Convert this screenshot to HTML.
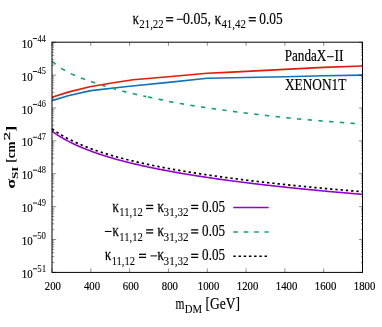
<!DOCTYPE html>
<html><head><meta charset="utf-8"><style>
html,body{margin:0;padding:0;background:#fff;}
svg{display:block;will-change:transform}
text{font-family:"Liberation Serif",serif;fill:#000;stroke:#000;stroke-width:0.18px}
</style></head><body>
<svg width="382" height="327" viewBox="0 0 382 327">
<rect width="382" height="327" fill="#fff"/>
<path d="M52.00,97.30 L68.11,92.10 L89.84,86.70 L110.22,83.30 L133.12,79.70 L168.44,76.80 L207.25,73.30 L231.70,72.10 L246.06,71.40 L284.88,69.40 L323.69,67.40 L362.50,66.00" stroke="#e41a0c" stroke-width="1.65" fill="none" stroke-linejoin="round"/>
<path d="M52.00,100.60 L68.11,95.80 L90.81,90.60 L129.62,86.20 L168.44,82.40 L207.25,78.20 L246.06,77.50 L284.88,76.70 L323.69,75.70 L362.50,75.10" stroke="#1272b8" stroke-width="1.65" fill="none" stroke-linejoin="round"/>
<path d="M52.00,61.40 L52.97,62.19 L53.94,62.96 L54.91,63.72 L55.65,64.28 M61.05,68.16 L61.70,68.57 L62.67,69.16 L63.64,69.73 L64.61,70.30 L64.98,70.50 M70.72,73.62 L71.41,73.94 L72.38,74.38 L73.35,74.81 L74.32,75.23 L74.83,75.45 M80.81,77.90 L81.11,78.01 L82.08,78.38 L83.05,78.74 L84.02,79.10 L84.99,79.45 L85.01,79.46 M91.08,81.56 L91.78,81.81 L92.75,82.15 L93.72,82.48 L94.69,82.81 L95.30,83.02 M101.40,85.00 L101.49,85.03 L102.46,85.33 L103.43,85.64 L104.40,85.94 L105.37,86.24 L105.65,86.33 M111.79,88.14 L112.16,88.25 L113.13,88.53 L114.10,88.80 L115.07,89.07 L116.04,89.34 L116.06,89.34 M122.24,90.99 L122.83,91.15 L123.80,91.40 L124.77,91.64 L125.74,91.89 L126.53,92.09 M132.73,93.59 L133.51,93.78 L134.48,94.00 L135.45,94.23 L136.42,94.45 L137.05,94.60 M143.27,95.98 L144.18,96.17 L145.15,96.38 L146.12,96.59 L146.30,96.62 M148.00,96.98 L148.06,96.99 L149.03,97.19 L150.00,97.39 L150.97,97.59 L151.94,97.79 L152.33,97.86 M158.57,99.12 L158.73,99.16 L159.70,99.39 L160.68,99.62 L161.65,99.85 L162.62,100.08 L162.88,100.14 M169.10,101.55 L169.41,101.61 L170.38,101.79 L171.35,101.96 L172.32,102.14 L173.29,102.31 L173.44,102.34 M179.70,103.44 L180.08,103.50 L181.05,103.67 L182.02,103.83 L182.99,104.00 L183.96,104.16 L184.06,104.17 M190.32,105.21 L190.75,105.28 L191.72,105.43 L192.70,105.59 L193.67,105.74 L194.64,105.90 L194.68,105.90 M200.96,106.88 L201.43,106.95 L202.40,107.10 L203.37,107.24 L204.34,107.39 L205.31,107.54 L205.32,107.54 M211.60,108.46 L212.10,108.53 L213.07,108.67 L214.04,108.81 L215.01,108.95 L215.97,109.09 M222.25,109.96 L222.78,110.04 L223.75,110.17 L224.72,110.30 L225.69,110.43 L226.62,110.56 M232.91,111.40 L233.45,111.47 L234.42,111.59 L235.39,111.72 L236.36,111.84 L237.28,111.96 M243.57,112.76 L244.12,112.83 L245.09,112.95 L246.06,113.07 L247.03,113.19 L247.95,113.30 M254.24,114.07 L254.80,114.13 L255.77,114.25 L256.74,114.37 L257.71,114.48 L258.62,114.59 M264.91,115.32 L265.47,115.39 L266.44,115.50 L267.41,115.61 L268.38,115.72 L269.29,115.82 M275.59,116.53 L276.14,116.59 L277.11,116.70 L278.08,116.81 L279.05,116.92 L279.97,117.02 M286.27,117.70 L286.82,117.76 L287.79,117.86 L288.76,117.96 L289.73,118.07 L290.65,118.17 M296.96,118.82 L297.49,118.88 L298.46,118.96 L299.43,119.05 L300.40,119.13 L301.34,119.22 M307.65,119.76 L308.16,119.81 L309.13,119.89 L310.10,119.97 L311.07,120.05 L312.04,120.14 M318.35,120.66 L318.84,120.70 L319.81,120.78 L320.78,120.86 L321.75,120.94 L322.72,121.02 L322.74,121.02 M329.06,121.53 L329.51,121.56 L330.48,121.64 L331.45,121.72 L332.42,121.79 L333.39,121.87 L333.44,121.87 M339.76,122.36 L340.18,122.39 L341.15,122.47 L342.12,122.54 L343.09,122.61 L344.06,122.69 L344.15,122.69 M350.47,123.17 L350.86,123.20 L351.83,123.28 L352.80,123.36 L353.77,123.44 L354.74,123.52 L354.85,123.53" stroke="#0fa374" stroke-width="1.6" fill="none"/>
<path d="M52.00,131.20 L52.97,131.91 L53.94,132.60 L54.91,133.27 L55.88,133.93 L56.85,134.58 L57.82,135.21 L58.79,135.83 L59.76,136.43 L60.73,137.02 L61.70,137.60 L62.67,138.17 L63.64,138.73 L64.61,139.27 L65.58,139.81 L66.55,140.34 L67.53,140.85 L68.50,141.36 L69.47,141.86 L70.44,142.35 L71.41,142.83 L72.38,143.31 L73.35,143.78 L74.32,144.23 L75.29,144.69 L76.26,145.13 L77.23,145.57 L78.20,146.00 L79.17,146.43 L80.14,146.85 L81.11,147.26 L82.08,147.67 L83.05,148.07 L84.02,148.46 L84.99,148.85 L85.96,149.24 L86.93,149.62 L87.90,150.00 L88.87,150.37 L89.84,150.73 L90.81,151.09 L91.78,151.45 L92.75,151.80 L93.72,152.15 L94.69,152.49 L95.66,152.83 L96.63,153.17 L97.60,153.50 L98.57,153.83 L99.55,154.15 L100.52,154.48 L101.49,154.79 L102.46,155.11 L103.43,155.42 L104.40,155.72 L105.37,156.03 L106.34,156.33 L107.31,156.63 L108.28,156.92 L109.25,157.21 L110.22,157.50 L111.19,157.79 L112.16,158.07 L113.13,158.35 L114.10,158.63 L115.07,158.90 L116.04,159.18 L117.01,159.45 L117.98,159.71 L118.95,159.98 L119.92,160.24 L120.89,160.50 L121.86,160.76 L122.83,161.01 L123.80,161.27 L124.77,161.52 L125.74,161.77 L126.71,162.01 L127.68,162.26 L128.65,162.50 L129.62,162.74 L130.60,162.98 L131.57,163.22 L132.54,163.45 L133.51,163.68 L134.48,163.91 L135.45,164.14 L136.42,164.37 L137.39,164.59 L138.36,164.82 L139.33,165.04 L140.30,165.26 L141.27,165.48 L142.24,165.70 L143.21,165.91 L144.18,166.13 L145.15,166.34 L146.12,166.55 L147.09,166.76 L148.06,166.96 L149.03,167.17 L150.00,167.38 L150.97,167.58 L151.94,167.78 L152.91,167.98 L153.88,168.18 L154.85,168.38 L155.82,168.57 L156.79,168.77 L157.76,168.96 L158.73,169.15 L159.70,169.35 L160.68,169.54 L161.65,169.72 L162.62,169.91 L163.59,170.10 L164.56,170.28 L165.53,170.47 L166.50,170.65 L167.47,170.83 L168.44,171.01 L169.41,171.19 L170.38,171.37 L171.35,171.55 L172.32,171.72 L173.29,171.90 L174.26,172.07 L175.23,172.24 L176.20,172.41 L177.17,172.59 L178.14,172.75 L179.11,172.92 L180.08,173.09 L181.05,173.26 L182.02,173.42 L182.99,173.59 L183.96,173.75 L184.93,173.92 L185.90,174.08 L186.87,174.24 L187.84,174.40 L188.81,174.56 L189.78,174.72 L190.75,174.88 L191.72,175.03 L192.70,175.19 L193.67,175.34 L194.64,175.50 L195.61,175.65 L196.58,175.80 L197.55,175.96 L198.52,176.11 L199.49,176.26 L200.46,176.41 L201.43,176.56 L202.40,176.70 L203.37,176.85 L204.34,177.00 L205.31,177.14 L206.28,177.29 L207.25,177.43 L208.22,177.58 L209.19,177.72 L210.16,177.86 L211.13,178.00 L212.10,178.14 L213.07,178.28 L214.04,178.42 L215.01,178.56 L215.98,178.70 L216.95,178.84 L217.92,178.97 L218.89,179.11 L219.86,179.25 L220.83,179.38 L221.80,179.51 L222.78,179.65 L223.75,179.78 L224.72,179.91 L225.69,180.05 L226.66,180.18 L227.63,180.31 L228.60,180.44 L229.57,180.57 L230.54,180.70 L231.51,180.82 L232.48,180.95 L233.45,181.08 L234.42,181.21 L235.39,181.33 L236.36,181.46 L237.33,181.58 L238.30,181.71 L239.27,181.83 L240.24,181.95 L241.21,182.08 L242.18,182.20 L243.15,182.32 L244.12,182.44 L245.09,182.56 L246.06,182.68 L247.03,182.80 L248.00,182.92 L248.97,183.04 L249.94,183.16 L250.91,183.28 L251.88,183.39 L252.85,183.51 L253.83,183.63 L254.80,183.74 L255.77,183.86 L256.74,183.97 L257.71,184.09 L258.68,184.20 L259.65,184.32 L260.62,184.43 L261.59,184.54 L262.56,184.66 L263.53,184.77 L264.50,184.88 L265.47,184.99 L266.44,185.10 L267.41,185.21 L268.38,185.32 L269.35,185.43 L270.32,185.54 L271.29,185.65 L272.26,185.76 L273.23,185.86 L274.20,185.97 L275.17,186.08 L276.14,186.18 L277.11,186.29 L278.08,186.40 L279.05,186.50 L280.02,186.61 L280.99,186.71 L281.96,186.82 L282.93,186.92 L283.90,187.02 L284.88,187.13 L285.85,187.23 L286.82,187.33 L287.79,187.43 L288.76,187.54 L289.73,187.64 L290.70,187.74 L291.67,187.84 L292.64,187.94 L293.61,188.04 L294.58,188.14 L295.55,188.24 L296.52,188.34 L297.49,188.44 L298.46,188.53 L299.43,188.63 L300.40,188.73 L301.37,188.83 L302.34,188.92 L303.31,189.02 L304.28,189.12 L305.25,189.21 L306.22,189.31 L307.19,189.40 L308.16,189.50 L309.13,189.59 L310.10,189.69 L311.07,189.78 L312.04,189.88 L313.01,189.97 L313.98,190.06 L314.95,190.16 L315.93,190.25 L316.90,190.34 L317.87,190.43 L318.84,190.52 L319.81,190.62 L320.78,190.71 L321.75,190.80 L322.72,190.89 L323.69,190.98 L324.66,191.07 L325.63,191.16 L326.60,191.25 L327.57,191.34 L328.54,191.43 L329.51,191.52 L330.48,191.60 L331.45,191.69 L332.42,191.78 L333.39,191.87 L334.36,191.95 L335.33,192.04 L336.30,192.13 L337.27,192.22 L338.24,192.30 L339.21,192.39 L340.18,192.47 L341.15,192.56 L342.12,192.64 L343.09,192.73 L344.06,192.81 L345.03,192.90 L346.00,192.98 L346.97,193.07 L347.95,193.15 L348.92,193.23 L349.89,193.32 L350.86,193.40 L351.83,193.48 L352.80,193.57 L353.77,193.65 L354.74,193.73 L355.71,193.81 L356.68,193.89 L357.65,193.98 L358.62,194.06 L359.59,194.14 L360.56,194.22 L361.53,194.30 L362.50,194.38" stroke="#9400d3" stroke-width="1.6" fill="none"/>
<path d="M52.00,128.75 L52.97,129.46 L53.94,130.15 L53.98,130.17 M56.53,131.91 L56.85,132.13 L57.82,132.76 L58.56,133.23 M61.18,134.83 L61.70,135.15 L62.67,135.71 L63.26,136.05 M65.92,137.54 L66.55,137.88 L67.53,138.39 L68.04,138.66 M70.74,140.04 L71.41,140.37 L72.38,140.85 L72.88,141.09 M75.62,142.38 L76.26,142.67 L77.23,143.10 L77.79,143.35 M80.56,144.56 L81.11,144.79 L82.08,145.20 L82.74,145.47 M85.53,146.60 L85.96,146.77 L86.93,147.15 L87.73,147.46 M90.54,148.52 L90.81,148.62 L91.78,148.97 L92.75,149.33 L92.76,149.33 M95.59,150.33 L95.66,150.36 L96.63,150.69 L97.60,151.02 L97.81,151.09 M100.65,152.04 L101.49,152.31 L102.46,152.62 L102.89,152.76 M105.74,153.66 L106.34,153.84 L107.31,154.14 L107.98,154.35 M110.84,155.20 L111.19,155.30 L112.16,155.58 L113.09,155.85 M115.96,156.66 L116.04,156.68 L117.01,156.95 L117.98,157.22 L118.22,157.29 M121.10,158.06 L121.86,158.26 L122.83,158.52 L123.36,158.65 M126.24,159.40 L126.71,159.51 L127.68,159.76 L128.51,159.96 M131.40,160.67 L131.57,160.71 L132.54,160.95 L133.51,161.18 L133.67,161.22 M136.57,161.90 L137.39,162.09 L138.36,162.31 L138.84,162.42 M141.74,163.08 L142.24,163.19 L143.21,163.40 L144.02,163.58 M146.92,164.21 L147.09,164.25 L148.06,164.45 L149.03,164.66 L149.20,164.69 M152.11,165.30 L152.91,165.47 L153.88,165.66 L154.39,165.77 M157.30,166.35 L157.76,166.44 L158.73,166.64 L159.59,166.80 M162.50,167.37 L162.62,167.39 L163.59,167.58 L164.56,167.76 L164.79,167.80 M167.71,168.35 L168.44,168.49 L169.41,168.66 L170.00,168.77 M172.91,169.30 L173.29,169.37 L174.26,169.54 L175.21,169.71 M178.13,170.22 L178.14,170.22 L179.11,170.39 L180.08,170.56 L180.42,170.62 M183.34,171.11 L183.96,171.22 L184.93,171.38 L185.64,171.50 M188.56,171.98 L188.81,172.02 L189.78,172.18 L190.75,172.34 L190.86,172.35 M193.78,172.82 L194.64,172.96 L195.61,173.11 L196.08,173.18 M199.00,173.64 L199.49,173.71 L200.46,173.86 L201.30,173.99 M204.23,174.43 L204.34,174.45 L205.31,174.59 L206.28,174.74 L206.53,174.78 M209.46,175.21 L210.16,175.31 L211.13,175.45 L211.76,175.54 M214.69,175.96 L215.01,176.01 L215.98,176.14 L216.95,176.28 L216.99,176.29 M219.92,176.70 L220.83,176.82 L221.80,176.95 L222.23,177.01 M225.16,177.41 L225.69,177.48 L226.66,177.61 L227.46,177.72 M230.39,178.11 L230.54,178.13 L231.51,178.26 L232.48,178.39 L232.70,178.41 M235.63,178.79 L236.36,178.89 L237.33,179.01 L237.94,179.09 M240.87,179.46 L241.21,179.50 L242.18,179.63 L243.15,179.75 L243.18,179.75 M246.11,180.11 L247.03,180.23 L248.00,180.35 L248.42,180.40 M251.35,180.75 L251.88,180.82 L252.85,180.93 L253.66,181.03 M256.60,181.38 L256.74,181.39 L257.71,181.51 L258.68,181.62 L258.90,181.65 M261.84,181.99 L262.56,182.07 L263.53,182.18 L264.15,182.25 M267.09,182.59 L267.41,182.62 L268.38,182.73 L269.35,182.84 L269.40,182.84 M272.33,183.17 L273.23,183.27 L274.20,183.38 L274.64,183.43 M277.58,183.75 L278.08,183.80 L279.05,183.91 L279.89,184.00 M282.83,184.31 L282.93,184.32 L283.90,184.42 L284.88,184.53 L285.14,184.55 M288.08,184.86 L288.76,184.93 L289.73,185.03 L290.39,185.10 M293.33,185.40 L293.61,185.43 L294.58,185.53 L295.55,185.63 L295.64,185.64 M298.58,185.94 L299.43,186.02 L300.40,186.12 L300.89,186.17 M303.83,186.46 L304.28,186.50 L305.25,186.60 L306.14,186.69 M309.08,186.97 L309.13,186.98 L310.10,187.07 L311.07,187.17 L311.39,187.20 M314.33,187.48 L314.95,187.54 L315.93,187.63 L316.65,187.70 M319.59,187.97 L319.81,187.99 L320.78,188.08 L321.75,188.17 L321.90,188.19 M324.84,188.46 L325.63,188.53 L326.60,188.62 L327.15,188.67 M330.09,188.94 L330.48,188.97 L331.45,189.06 L332.41,189.15 M335.35,189.41 L336.30,189.50 L337.27,189.58 L337.66,189.62 M340.60,189.87 L341.15,189.92 L342.12,190.01 L342.92,190.08 M345.86,190.33 L346.00,190.34 L346.97,190.43 L347.95,190.51 L348.17,190.53 M351.12,190.78 L351.83,190.84 L352.80,190.92 L353.43,190.98 M356.37,191.22 L356.68,191.25 L357.65,191.33 L358.62,191.41 L358.69,191.42 M361.63,191.66 L362.50,191.73" stroke="#000" stroke-width="1.7" fill="none"/>
<path d="M52.0,42.20h4.2 M362.5,42.20h-3.4 M52.0,65.19h2.2 M362.5,65.19h-1.5 M52.0,59.40h2.2 M362.5,59.40h-1.5 M52.0,55.29h2.2 M362.5,55.29h-1.5 M52.0,52.10h2.2 M362.5,52.10h-1.5 M52.0,49.50h2.2 M362.5,49.50h-1.5 M52.0,47.29h2.2 M362.5,47.29h-1.5 M52.0,45.39h2.2 M362.5,45.39h-1.5 M52.0,43.70h2.2 M362.5,43.70h-1.5 M52.0,75.09h4.2 M362.5,75.09h-3.4 M52.0,98.07h2.2 M362.5,98.07h-1.5 M52.0,92.28h2.2 M362.5,92.28h-1.5 M52.0,88.17h2.2 M362.5,88.17h-1.5 M52.0,84.99h2.2 M362.5,84.99h-1.5 M52.0,82.38h2.2 M362.5,82.38h-1.5 M52.0,80.18h2.2 M362.5,80.18h-1.5 M52.0,78.27h2.2 M362.5,78.27h-1.5 M52.0,76.59h2.2 M362.5,76.59h-1.5 M52.0,107.97h4.2 M362.5,107.97h-3.4 M52.0,130.96h2.2 M362.5,130.96h-1.5 M52.0,125.17h2.2 M362.5,125.17h-1.5 M52.0,121.06h2.2 M362.5,121.06h-1.5 M52.0,117.87h2.2 M362.5,117.87h-1.5 M52.0,115.27h2.2 M362.5,115.27h-1.5 M52.0,113.07h2.2 M362.5,113.07h-1.5 M52.0,111.16h2.2 M362.5,111.16h-1.5 M52.0,109.48h2.2 M362.5,109.48h-1.5 M52.0,140.86h4.2 M362.5,140.86h-3.4 M52.0,163.84h2.2 M362.5,163.84h-1.5 M52.0,158.05h2.2 M362.5,158.05h-1.5 M52.0,153.94h2.2 M362.5,153.94h-1.5 M52.0,150.76h2.2 M362.5,150.76h-1.5 M52.0,148.15h2.2 M362.5,148.15h-1.5 M52.0,145.95h2.2 M362.5,145.95h-1.5 M52.0,144.04h2.2 M362.5,144.04h-1.5 M52.0,142.36h2.2 M362.5,142.36h-1.5 M52.0,173.74h4.2 M362.5,173.74h-3.4 M52.0,196.73h2.2 M362.5,196.73h-1.5 M52.0,190.94h2.2 M362.5,190.94h-1.5 M52.0,186.83h2.2 M362.5,186.83h-1.5 M52.0,183.64h2.2 M362.5,183.64h-1.5 M52.0,181.04h2.2 M362.5,181.04h-1.5 M52.0,178.84h2.2 M362.5,178.84h-1.5 M52.0,176.93h2.2 M362.5,176.93h-1.5 M52.0,175.25h2.2 M362.5,175.25h-1.5 M52.0,206.63h4.2 M362.5,206.63h-3.4 M52.0,229.61h2.2 M362.5,229.61h-1.5 M52.0,223.82h2.2 M362.5,223.82h-1.5 M52.0,219.72h2.2 M362.5,219.72h-1.5 M52.0,216.53h2.2 M362.5,216.53h-1.5 M52.0,213.92h2.2 M362.5,213.92h-1.5 M52.0,211.72h2.2 M362.5,211.72h-1.5 M52.0,209.82h2.2 M362.5,209.82h-1.5 M52.0,208.13h2.2 M362.5,208.13h-1.5 M52.0,239.51h4.2 M362.5,239.51h-3.4 M52.0,262.50h2.2 M362.5,262.50h-1.5 M52.0,256.71h2.2 M362.5,256.71h-1.5 M52.0,252.60h2.2 M362.5,252.60h-1.5 M52.0,249.41h2.2 M362.5,249.41h-1.5 M52.0,246.81h2.2 M362.5,246.81h-1.5 M52.0,244.61h2.2 M362.5,244.61h-1.5 M52.0,242.70h2.2 M362.5,242.70h-1.5 M52.0,241.02h2.2 M362.5,241.02h-1.5 M52.0,272.40h4.2 M362.5,272.40h-3.4 M52.00,272.4v-4.0 M52.00,42.2v3.7 M90.81,272.4v-4.0 M90.81,42.2v3.7 M129.62,272.4v-4.0 M129.62,42.2v3.7 M168.44,272.4v-4.0 M168.44,42.2v3.7 M207.25,272.4v-4.0 M207.25,42.2v3.7 M246.06,272.4v-4.0 M246.06,42.2v3.7 M284.88,272.4v-4.0 M284.88,42.2v3.7 M323.69,272.4v-4.0 M323.69,42.2v3.7 M362.50,272.4v-4.0 M362.50,42.2v3.7" stroke="#000" stroke-width="0.45" fill="none"/>
<rect x="52.0" y="42.2" width="310.5" height="230.2" fill="none" stroke="#000" stroke-width="1"/>
<text transform="translate(132.66,23.80) scale(0.6930,1)" font-size="17.5" style="stroke-width:0.3px">κ</text>
<text transform="translate(139.31,28.40) scale(0.9107,1)" font-size="11.9" style="stroke-width:0.06px">21,22</text>
<rect x="166.10" y="17.08" width="7.1" height="1.3" fill="#000"/><rect x="166.10" y="20.12" width="7.1" height="1.3" fill="#000"/>
<rect x="176.70" y="18.80" width="6.7" height="1.0" fill="#000"/>
<text transform="translate(183.07,23.80) scale(0.8000,1)" font-size="17.5">0.05,</text>
<text transform="translate(214.65,23.80) scale(0.7173,1)" font-size="17.5" style="stroke-width:0.3px">κ</text>
<text transform="translate(221.38,28.40) scale(0.9195,1)" font-size="11.9" style="stroke-width:0.06px">41,42</text>
<rect x="248.75" y="17.08" width="7.1" height="1.3" fill="#000"/><rect x="248.75" y="20.12" width="7.1" height="1.3" fill="#000"/>
<text transform="translate(259.30,23.80) scale(0.7619,1)" font-size="17.5">0.05</text>
<text transform="translate(284.70,61.00) scale(0.7841,1)" font-size="16.8">PandaX</text>
<rect x="327.00" y="56.20" width="6.7" height="1.0" fill="#000"/>
<text transform="translate(334.52,61.00) scale(0.8103,1)" font-size="16.8">II</text>
<text transform="translate(285.00,90.30) scale(0.7915,1)" font-size="16.8">XENON1T</text>
<text transform="translate(157.54,211.50) scale(0.7295,1)" font-size="17.5" style="stroke-width:0.3px">κ</text>
<text transform="translate(163.57,216.10) scale(0.9352,1)" font-size="11.9" style="stroke-width:0.06px">31,32</text>
<rect x="191.15" y="204.77" width="7.1" height="1.3" fill="#000"/><rect x="191.15" y="207.82" width="7.1" height="1.3" fill="#000"/>
<text transform="translate(202.11,211.50) scale(0.7482,1)" font-size="17.5">0.05</text>
<text transform="translate(157.54,235.95) scale(0.7295,1)" font-size="17.5" style="stroke-width:0.3px">κ</text>
<text transform="translate(163.57,240.55) scale(0.9352,1)" font-size="11.9" style="stroke-width:0.06px">31,32</text>
<rect x="191.15" y="229.22" width="7.1" height="1.3" fill="#000"/><rect x="191.15" y="232.27" width="7.1" height="1.3" fill="#000"/>
<text transform="translate(202.11,235.95) scale(0.7482,1)" font-size="17.5">0.05</text>
<text transform="translate(157.54,260.40) scale(0.7295,1)" font-size="17.5" style="stroke-width:0.3px">κ</text>
<text transform="translate(163.57,265.00) scale(0.9352,1)" font-size="11.9" style="stroke-width:0.06px">31,32</text>
<rect x="191.15" y="253.67" width="7.1" height="1.3" fill="#000"/><rect x="191.15" y="256.72" width="7.1" height="1.3" fill="#000"/>
<text transform="translate(202.11,260.40) scale(0.7482,1)" font-size="17.5">0.05</text>
<text transform="translate(112.55,211.50) scale(0.7173,1)" font-size="17.5" style="stroke-width:0.3px">κ</text>
<text transform="translate(119.27,216.10) scale(0.8931,1)" font-size="11.9" style="stroke-width:0.06px">11,12</text>
<rect x="146.10" y="204.77" width="7.1" height="1.3" fill="#000"/><rect x="146.10" y="207.82" width="7.1" height="1.3" fill="#000"/>
<text transform="translate(112.55,235.95) scale(0.7173,1)" font-size="17.5" style="stroke-width:0.3px">κ</text>
<text transform="translate(119.27,240.55) scale(0.8931,1)" font-size="11.9" style="stroke-width:0.06px">11,12</text>
<rect x="146.10" y="229.22" width="7.1" height="1.3" fill="#000"/><rect x="146.10" y="232.27" width="7.1" height="1.3" fill="#000"/>
<rect x="104.85" y="230.95" width="6.7" height="1.0" fill="#000"/>
<text transform="translate(105.05,260.40) scale(0.7052,1)" font-size="17.5" style="stroke-width:0.3px">κ</text>
<text transform="translate(111.67,265.00) scale(0.8891,1)" font-size="11.9" style="stroke-width:0.06px">11,12</text>
<rect x="139.00" y="253.67" width="7.1" height="1.3" fill="#000"/><rect x="139.00" y="256.72" width="7.1" height="1.3" fill="#000"/>
<rect x="150.40" y="255.40" width="6.7" height="1.0" fill="#000"/>
<path d="M233.3,207.6H268.6" stroke="#9400d3" stroke-width="1.5"/>
<path d="M233.3,231.9H268.6" stroke="#0fa374" stroke-width="1.5" stroke-dasharray="4.7,5.7"/>
<path d="M233.3,256.2H268.6" stroke="#000" stroke-width="1.5" stroke-dasharray="2.5,2.7"/>
<text transform="translate(175.47,308.70) scale(0.6542,1)" font-size="17.5">m</text>
<text transform="translate(184.78,313.30) scale(0.9039,1)" font-size="11.9" style="stroke-width:0.06px">DM</text>
<text transform="translate(205.59,308.70) scale(0.8282,1)" font-size="16.3">[GeV]</text>
<text transform="translate(21.75,47.80) scale(0.8973,1)" font-size="12.1">10</text>
<rect x="32.9" y="38.15" width="4.2" height="0.9" fill="#000"/>
<text transform="translate(37.54,41.50) scale(0.7872,1)" font-size="10.4" style="stroke-width:0.06px">44</text>
<text transform="translate(21.75,80.69) scale(0.8973,1)" font-size="12.1">10</text>
<rect x="32.9" y="71.04" width="4.2" height="0.9" fill="#000"/>
<text transform="translate(37.53,74.39) scale(0.8081,1)" font-size="10.4" style="stroke-width:0.06px">45</text>
<text transform="translate(21.75,113.57) scale(0.8973,1)" font-size="12.1">10</text>
<rect x="32.9" y="103.92" width="4.2" height="0.9" fill="#000"/>
<text transform="translate(37.53,107.27) scale(0.7996,1)" font-size="10.4" style="stroke-width:0.06px">46</text>
<text transform="translate(21.75,146.46) scale(0.8973,1)" font-size="12.1">10</text>
<rect x="32.9" y="136.81" width="4.2" height="0.9" fill="#000"/>
<text transform="translate(37.53,140.16) scale(0.7996,1)" font-size="10.4" style="stroke-width:0.06px">47</text>
<text transform="translate(21.75,179.34) scale(0.8973,1)" font-size="12.1">10</text>
<rect x="32.9" y="169.69" width="4.2" height="0.9" fill="#000"/>
<text transform="translate(37.53,173.04) scale(0.8060,1)" font-size="10.4" style="stroke-width:0.06px">48</text>
<text transform="translate(21.75,212.23) scale(0.8973,1)" font-size="12.1">10</text>
<rect x="32.9" y="202.58" width="4.2" height="0.9" fill="#000"/>
<text transform="translate(37.53,205.93) scale(0.8081,1)" font-size="10.4" style="stroke-width:0.06px">49</text>
<text transform="translate(21.75,245.11) scale(0.8973,1)" font-size="12.1">10</text>
<rect x="32.9" y="235.46" width="4.2" height="0.9" fill="#000"/>
<text transform="translate(37.20,238.81) scale(0.8394,1)" font-size="10.4" style="stroke-width:0.06px">50</text>
<text transform="translate(21.75,278.00) scale(0.8973,1)" font-size="12.1">10</text>
<rect x="32.9" y="268.35" width="4.2" height="0.9" fill="#000"/>
<text transform="translate(37.19,271.70) scale(0.8608,1)" font-size="10.4" style="stroke-width:0.06px">51</text>
<text transform="translate(44.80,289.70) scale(0.8876,1)" font-size="12.1">200</text>
<text transform="translate(83.93,289.70) scale(0.8876,1)" font-size="12.1">400</text>
<text transform="translate(122.79,289.70) scale(0.8876,1)" font-size="12.1">600</text>
<text transform="translate(161.81,289.70) scale(0.8876,1)" font-size="12.1">800</text>
<text transform="translate(197.84,289.70) scale(0.8876,1)" font-size="12.1">1000</text>
<text transform="translate(236.83,289.70) scale(0.8876,1)" font-size="12.1">1200</text>
<text transform="translate(275.82,289.70) scale(0.8876,1)" font-size="12.1">1400</text>
<text transform="translate(314.80,289.70) scale(0.8876,1)" font-size="12.1">1600</text>
<text transform="translate(353.79,289.70) scale(0.8876,1)" font-size="12.1">1800</text>
<text transform="translate(15.00,188.80) scale(0.75,1) rotate(-90) scale(1.0629,1)" font-size="17.5" font-weight="bold" style="stroke-width:0">σ</text>
<text transform="translate(18.45,178.99) scale(0.75,1) rotate(-90) scale(1.0976,1)" font-size="11.9" font-weight="bold" style="stroke-width:0">SI</text>
<text transform="translate(15.00,162.69) scale(0.75,1) rotate(-90) scale(0.7569,1)" font-size="17.5" font-weight="bold" style="stroke-width:0">[cm</text>
<text transform="translate(9.75,140.35) scale(0.75,1) rotate(-90) scale(1.4076,1)" font-size="11.9" style="stroke-width:0.35px">2</text>
<text transform="translate(15.00,131.64) scale(0.75,1) rotate(-90) scale(1.0413,1)" font-size="17.5" font-weight="bold" style="stroke-width:0">]</text>
</svg>
</body></html>
